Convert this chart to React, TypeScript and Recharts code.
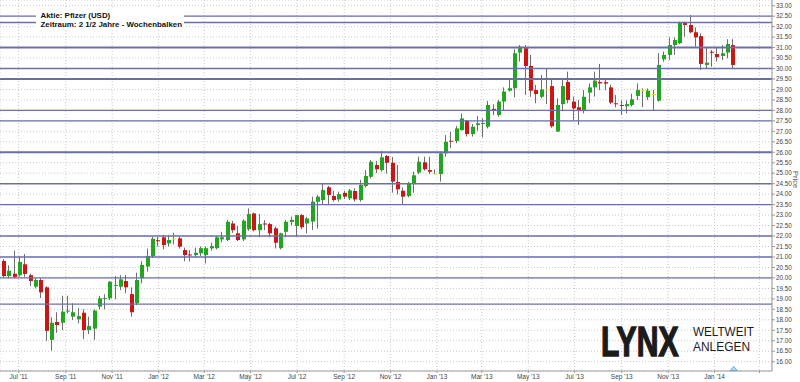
import React from "react";
import {
  Bar,
  CartesianGrid,
  ComposedChart,
  ReferenceDot,
  ReferenceLine,
  XAxis,
  YAxis,
} from "recharts";

// Pfizer (USD), weekly candles, first bar in the week of 2011-06-10
const weekStart = "2011-06-10";

const opens = [
  20.81, 20.09, 20.2, 20.13, 20.65, 20.13, 19.58, 19.9, 19.55, 17.04,
  17.9, 17.86, 18.4, 18.15, 18.02, 18.34, 17.51, 17.58, 18.63, 19.0,
  19.03, 19.64, 19.58, 19.85, 19.23, 18.79, 19.98, 20.54, 21.04, 21.8,
  21.94, 21.65, 21.89, 21.89, 21.33, 21.12, 21.09, 21.18, 21.09, 21.41,
  21.42, 21.84, 21.81, 22.6, 22.13, 21.84, 22.32, 23.08, 22.28, 22.6,
  22.57, 22.37, 21.42, 22.2, 22.67, 22.48, 23.0, 22.6, 22.69, 23.64,
  23.72, 24.33, 23.91, 23.75, 24.06, 23.8, 24.15, 23.72, 24.39, 24.83,
  25.39, 25.15, 25.82, 25.5, 24.58, 24.16, 23.91, 24.5, 25.03, 25.52,
  25.15, 24.99, 24.96, 25.95, 26.55, 26.53, 27.06, 27.51, 26.87, 27.3,
  27.36, 27.22, 28.07, 27.78, 28.42, 28.94, 29.06, 30.76, 30.97, 30.12,
  28.97, 28.65, 29.0, 29.16, 26.99, 28.3, 29.36, 28.42, 28.15, 27.99,
  28.85, 29.1, 29.36, 29.35, 29.1, 28.34, 28.26, 28.2, 28.26, 28.69,
  28.97, 28.63, 28.78, 28.46, 30.44, 30.65, 31.12, 31.21, 32.19, 32.08,
  31.73, 31.55, 30.17, 30.8, 30.69, 30.6, 30.76, 31.12,
];

const highs = [
  20.9, 20.6, 21.3, 21.04, 21.14, 20.2, 20.0, 19.98, 19.6, 18.12,
  18.36, 19.15, 19.15, 18.79, 18.56, 18.5, 18.15, 18.5, 19.14, 19.22,
  19.85, 20.09, 20.13, 20.14, 19.55, 20.25, 20.8, 21.4, 21.96, 21.96,
  22.05, 22.05, 22.16, 21.97, 21.45, 21.33, 21.45, 21.5, 21.5, 21.68,
  22.02, 22.2, 22.77, 22.72, 22.48, 22.8, 23.32, 23.12, 23.05, 22.76,
  22.64, 22.45, 22.16, 22.77, 22.93, 23.0, 23.05, 22.92, 23.88, 23.96,
  24.49, 24.4, 24.16, 24.12, 24.16, 24.25, 24.28, 24.68, 25.15, 25.63,
  25.58, 26.07, 25.87, 25.78, 25.39, 24.32, 24.59, 25.07, 25.79, 25.79,
  25.79, 25.18, 26.03, 26.82, 26.98, 27.26, 27.86, 27.55, 27.35, 27.73,
  27.62, 28.45, 28.29, 28.5, 29.1, 29.45, 30.92, 31.12, 31.12, 30.65,
  29.22, 29.69, 30.01, 29.49, 28.58, 29.45, 29.85, 28.66, 28.5, 28.97,
  29.29, 29.85, 30.22, 29.49, 29.22, 28.74, 28.48, 28.48, 28.8, 29.29,
  29.05, 29.05, 28.97, 30.73, 30.81, 31.49, 31.49, 32.24, 32.24, 32.56,
  31.96, 31.68, 31.04, 30.89, 31.04, 31.12, 31.4, 31.4,
];

const lows = [
  20.02, 19.98, 19.98, 20.06, 20.05, 19.61, 19.5, 19.04, 16.99, 16.52,
  17.38, 17.51, 18.3, 17.99, 17.83, 17.07, 17.32, 17.04, 18.5, 18.5,
  18.94, 18.98, 19.42, 19.27, 18.15, 18.7, 19.74, 20.3, 20.95, 21.5,
  21.36, 21.5, 21.6, 21.4, 20.79, 20.79, 20.98, 21.05, 20.7, 21.3,
  21.36, 21.7, 21.76, 22.15, 21.76, 21.76, 22.25, 22.22, 21.94, 22.28,
  21.94, 21.41, 21.36, 21.94, 22.5, 21.98, 22.32, 22.13, 22.29, 22.36,
  23.48, 23.48, 23.64, 23.64, 23.76, 23.72, 23.64, 23.64, 24.32, 24.75,
  25.0, 25.07, 24.99, 24.07, 23.99, 23.53, 23.85, 24.07, 24.96, 25.12,
  24.96, 24.95, 24.6, 25.79, 26.2, 26.43, 27.03, 26.75, 26.75, 27.03,
  26.71, 27.14, 27.78, 27.7, 28.02, 28.9, 28.62, 30.33, 28.74, 28.65,
  28.34, 28.58, 28.3, 27.17, 26.98, 27.96, 28.34, 27.51, 27.3, 27.86,
  28.34, 28.66, 28.97, 28.97, 28.3, 28.15, 27.78, 27.86, 28.18, 28.5,
  28.15, 28.5, 28.02, 28.42, 30.33, 30.41, 30.65, 31.17, 31.52, 31.68,
  31.04, 29.93, 30.01, 30.09, 30.33, 30.4, 30.49, 30.01,
];

const closes = [
  20.09, 20.34, 20.05, 20.76, 20.19, 19.85, 19.9, 19.31, 17.47, 17.86,
  17.75, 18.39, 18.44, 18.36, 18.18, 17.51, 17.7, 18.44, 19.03, 19.04,
  19.82, 19.67, 19.93, 19.55, 18.36, 19.9, 20.62, 21.05, 21.87, 21.75,
  21.57, 21.81, 21.89, 21.49, 21.09, 21.08, 21.2, 21.42, 21.42, 21.52,
  21.94, 21.94, 22.68, 22.28, 21.81, 22.73, 23.05, 22.28, 22.57, 22.55,
  22.13, 21.68, 22.13, 22.68, 22.77, 23.0, 22.42, 22.84, 23.64, 23.88,
  24.2, 23.96, 23.72, 24.0, 23.88, 24.18, 23.75, 24.44, 24.87, 25.55,
  25.19, 25.76, 25.5, 24.6, 24.23, 23.88, 24.54, 24.9, 25.55, 25.19,
  25.07, 24.99, 25.95, 26.5, 26.51, 27.14, 27.62, 26.87, 27.22, 27.38,
  27.4, 28.26, 28.02, 28.42, 28.9, 29.06, 30.73, 31.04, 30.12, 28.94,
  28.78, 29.0, 29.0, 27.24, 28.26, 29.16, 28.5, 28.1, 28.02, 28.65,
  29.1, 29.42, 29.29, 29.28, 28.37, 28.3, 28.22, 28.3, 28.53, 28.97,
  28.97, 28.94, 28.78, 30.17, 30.65, 31.12, 31.36, 32.19, 32.08, 31.73,
  31.49, 30.22, 30.28, 30.76, 30.54, 30.73, 31.17, 30.17,
];

// horizontal support / resistance lines
const levelLines = [32.5, 32.2, 31, 30, 29.5, 28, 27.5, 26, 24.5, 23.5, 22, 21, 20, 18.75];
const heavyLevels = [31, 29.5, 26];

const monthDates = [
  "2011-07-01", "2011-09-01", "2011-11-01", "2012-01-01", "2012-03-01",
  "2012-05-01", "2012-07-01", "2012-09-01", "2012-11-01", "2013-01-01",
  "2013-03-01", "2013-05-01", "2013-07-01", "2013-09-01", "2013-11-01",
  "2014-01-01", "2014-03-01",
];
const monthLabels = [
  "Jul '11", "Sep '11", "Nov '11", "Jan '12", "Mar '12",
  "May '12", "Jul '12", "Sep '12", "Nov '12", "Jan '13",
  "Mar '13", "May '13", "Jul '13", "Sep '13", "Nov '13",
  "Jan '14", "",
];

const priceTicks = [
  16, 16.5, 17, 17.5, 18, 18.5, 19, 19.5, 20, 20.5, 21, 21.5, 22, 22.5,
  23, 23.5, 24, 24.5, 25, 25.5, 26, 26.5, 27, 27.5, 28, 28.5, 29, 29.5,
  30, 30.5, 31, 31.5, 32, 32.5, 33,
];

const eventWeeks = [137.3];

const WEEK_MS = 7 * 24 * 3600 * 1000;
const toWeek = (iso: string) => (Date.parse(iso) - Date.parse(weekStart)) / WEEK_MS;
const tickWeeks = monthDates.map(toWeek);

const candles = opens.map((open, i) => ({
  week: i,
  open,
  high: highs[i],
  low: lows[i],
  close: closes[i],
  range: [lows[i], highs[i]],
}));

const Y_DOMAIN: [number, number] = [15.555, 33.272];
const FONT = "'Liberation Sans', Arial, sans-serif";

function Candle(props: any) {
  const { x, y, width, height, payload } = props;
  if (!payload || x == null) return null;
  const { open, close, high, low } = payload;
  const top = Math.min(y, y + height);
  const h = Math.abs(height);
  const ppu = high > low ? h / (high - low) : 0;
  const yO = top + (high - open) * ppu;
  const yC = top + (high - close) * ppu;
  const px = Math.round(x + width / 2);
  const bodyTop = Math.min(yO, yC);
  const bodyH = Math.max(Math.abs(yC - yO), 1);
  const fill = close > open ? "#22a622" : close < open ? "#cc1515" : "#e6e21a";
  return (
    <g>
      <line x1={px + 0.5} x2={px + 0.5} y1={top} y2={top + h} stroke="#6e6e6e" strokeWidth={1} />
      <rect x={px - 1} y={bodyTop} width={4} height={bodyH} fill={fill} />
    </g>
  );
}

function EventMarker(props: any) {
  const { cx, cy } = props;
  if (cx == null) return null;
  return (
    <polygon
      points={`${cx - 3.5},${cy - 0.5} ${cx},${cy - 4.5} ${cx + 3.5},${cy - 0.5}`}
      fill="#b9dcf3"
      stroke="#4f97cf"
      strokeWidth={0.8}
    />
  );
}

export default function App() {
  return (
    <div
      style={{
        position: "absolute",
        left: 0,
        top: 0,
        width: 800,
        height: 382,
        background: "#fff",
        fontFamily: FONT,
      }}
    >
      <ComposedChart
        width={800}
        height={382}
        data={candles}
        margin={{ top: 0, right: 0, bottom: 0, left: 0 }}
      >
        <CartesianGrid stroke="#c9c9c9" strokeDasharray="1 2" />
        <XAxis
          dataKey="week"
          type="number"
          domain={[-0.5, 144.5]}
          ticks={tickWeeks}
          interval={0}
          allowDataOverflow
          height={11}
          tickSize={2}
          tickMargin={1}
          axisLine={{ stroke: "#9a9a9a" }}
          tickLine={{ stroke: "#9a9a9a" }}
          tick={{ fontSize: 6.5, fill: "#444", fontFamily: FONT }}
          tickFormatter={(_v: number, i: number) => monthLabels[i] ?? ""}
        />
        <YAxis
          orientation="right"
          width={28}
          type="number"
          domain={Y_DOMAIN}
          allowDataOverflow
          ticks={priceTicks}
          interval={0}
          tickSize={3}
          tickMargin={1}
          axisLine={{ stroke: "#9a9a9a" }}
          tickLine={{ stroke: "#9a9a9a" }}
          tick={{ fontSize: 6.3, fill: "#444", fontFamily: FONT }}
          tickFormatter={(v: number) => v.toFixed(2)}
        />
        {levelLines.map((v) => (
          <ReferenceLine
            key={v}
            y={v}
            stroke="#6b6fa9"
            strokeWidth={heavyLevels.includes(v) ? 2 : 1.4}
          />
        ))}
        <Bar
          dataKey="range"
          barSize={4}
          shape={<Candle />}
          isAnimationActive={false}
        />
        {eventWeeks.map((w) => (
          <ReferenceDot
            key={w}
            x={w}
            y={Y_DOMAIN[0]}
            ifOverflow="visible"
            shape={<EventMarker />}
          />
        ))}
      </ComposedChart>
      <svg
        width={800}
        height={382}
        style={{ position: "absolute", left: 0, top: 0, pointerEvents: "none" }}
      >
        <rect x={36} y={9} width={148} height={21} fill="#fff" />
        <text fontSize={7.9} fontWeight="bold" fill="#111" fontFamily={FONT}>
          <tspan x={40.5} y={17.8}>Aktie: Pfizer (USD)</tspan>
          <tspan x={40.5} y={26.8}>Zeitraum: 2 1/2 Jahre - Wochenbalken</tspan>
        </text>
        {/* logo: narrowed by scaling so its box matches what is drawn */}
        <text
          transform="translate(601 356) scale(0.7 1)"
          fontSize={43}
          fontWeight="bold"
          fill="#1b1b1b"
          stroke="#1b1b1b"
          strokeWidth={1.5}
          fontFamily={FONT}
        >
          LYNX
        </text>
        <text
          transform="translate(693 336) scale(0.9 1)"
          fontSize={13}
          fill="#1b1b1b"
          fontFamily={FONT}
        >
          WELTWEIT
        </text>
        <text
          transform="translate(693 350.5) scale(0.92 1)"
          fontSize={13}
          fill="#1b1b1b"
          fontFamily={FONT}
        >
          ANLEGEN
        </text>
        <text
          x={793}
          y={171}
          fontSize={7.5}
          fill="#555"
          fontFamily={FONT}
          transform="rotate(90 793 171)"
        >
          Price
        </text>
      </svg>
    </div>
  );
}
